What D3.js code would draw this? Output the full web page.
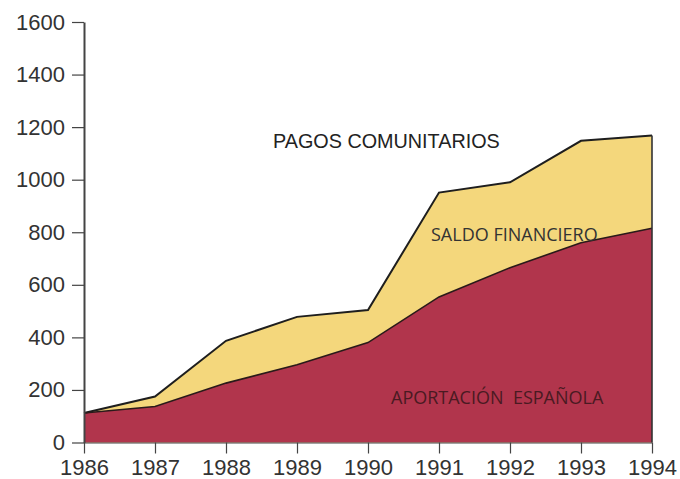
<!DOCTYPE html>
<html>
<head>
<meta charset="utf-8">
<style>
  body { margin: 0; background: #fff; }
  svg { display: block; }
  .axis text { font-family: 'Liberation Sans', Arial, sans-serif; fill: #333; }
  .axis line, .axis path { stroke: #444; }
</style>
</head>
<body>
<script src="https://cdn.jsdelivr.net/npm/d3@7"></script>
<script>

// values (millones)
var years = [1986, 1987, 1988, 1989, 1990, 1991, 1992, 1993, 1994];
var aportacion = [112, 137, 226, 296, 380, 554, 665, 760, 815];
var pagos = [112, 175, 387, 478, 504, 951, 990, 1148, 1168];
var yTicks = [0, 200, 400, 600, 800, 1000, 1200, 1400, 1600];

var labelPagos = 'PAGOS COMUNITARIOS';
var labelSaldo = 'SALDO FINANCIERO';
var labelAport = 'APORTACIÓN  ESPAÑOLA';

var width = 680, height = 479;

var svg = d3.select('body').append('svg')
  .attr('width', width)
  .attr('height', height);

var x = d3.scaleLinear().domain([1986, 1994]).range([84, 652]);
var y = d3.scaleLinear().domain([0, 1600]).range([442.5, 22]);

var rows = years.map(function (yr, i) {
  return { year: yr, low: aportacion[i], high: pagos[i] };
});

var areaTop = d3.area()
  .x(function (d) { return x(d.year); })
  .y0(function (d) { return y(0); })
  .y1(function (d) { return y(d.high); });

var areaLow = d3.area()
  .x(function (d) { return x(d.year); })
  .y0(function (d) { return y(0); })
  .y1(function (d) { return y(d.low); });

svg.append('path')
  .datum(rows)
  .attr('d', areaTop)
  .attr('fill', '#f4d77c');

svg.append('path')
  .datum(rows)
  .attr('d', areaLow)
  .attr('fill', '#b1354c');

var lineTop = d3.line().x(function (d) { return x(d.year); }).y(function (d) { return y(d.high); });
var lineLow = d3.line().x(function (d) { return x(d.year); }).y(function (d) { return y(d.low); });

svg.append('path').datum(rows).attr('d', lineTop)
  .attr('fill', 'none').attr('stroke', '#1e1e1e').attr('stroke-width', 2);
svg.append('path').datum(rows).attr('d', lineLow)
  .attr('fill', 'none').attr('stroke', '#2a1a1a').attr('stroke-width', 1.6);

// right edge
var last = rows[rows.length - 1];
svg.append('line')
  .attr('x1', x(last.year)).attr('x2', x(last.year))
  .attr('y1', y(last.high)).attr('y2', y(0))
  .attr('stroke', '#333').attr('stroke-width', 1.6);

// axes
var yAxis = d3.axisLeft(y).tickValues(yTicks).tickFormat(d3.format('d'))
  .tickSize(12).tickSizeOuter(0).tickPadding(7);
var gy = svg.append('g').attr('class', 'axis')
  .attr('transform', 'translate(' + x(1986) + ',0)')
  .call(yAxis);
gy.selectAll('text').style('font-size', '22px');
gy.select('.domain').attr('stroke', '#222').attr('stroke-width', 2);
gy.selectAll('.tick line').attr('stroke', '#555').attr('stroke-width', 1.2);

var xAxis = d3.axisBottom(x).tickValues(years).tickFormat(d3.format('d'))
  .tickSize(11).tickSizeOuter(0).tickPadding(6);
var gx = svg.append('g').attr('class', 'axis')
  .attr('transform', 'translate(0,' + y(0) + ')')
  .call(xAxis);
gx.selectAll('text').style('font-size', '22px');
gx.select('.domain').attr('stroke', '#aaa').attr('stroke-width', 1);
gx.selectAll('.tick line').attr('stroke', '#555').attr('stroke-width', 1.2);

// series labels
svg.append('text')
  .attr('x', x(1986) + 189).attr('y', y(1120))
  .attr('font-family', "'Liberation Sans', Arial, sans-serif")
  .attr('font-size', 19.8).attr('fill', '#222')
  .text(labelPagos);

svg.append('text')
  .attr('x', x(1991) - 8).attr('y', y(765))
  .attr('font-family', "'Open Sans', sans-serif")
  .attr('font-size', 18).attr('fill', '#333')
  .text(labelSaldo);

svg.append('text')
  .attr('x', x(1991) - 48).attr('y', y(145))
  .attr('font-family', "'Open Sans', sans-serif")
  .attr('font-size', 18).attr('fill', '#4a1a22')
  .style('white-space', 'pre')
  .text(labelAport);

</script>
</body>
</html>
